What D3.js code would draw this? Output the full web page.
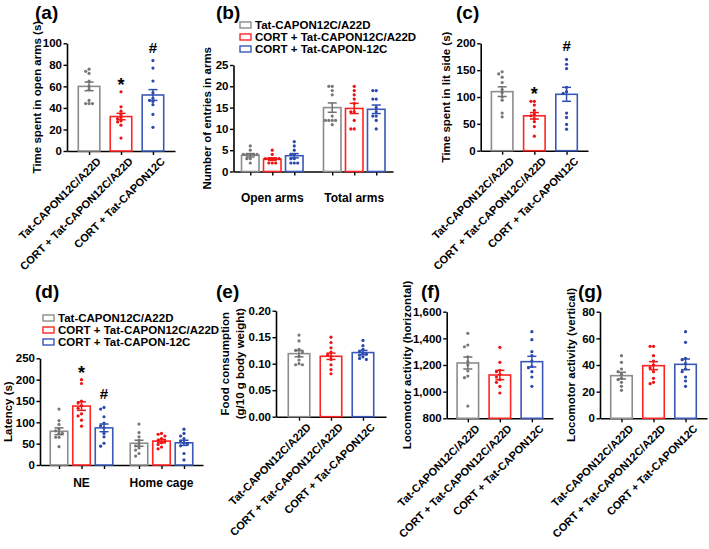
<!DOCTYPE html>
<html><head><meta charset="utf-8">
<script src="https://cdn.jsdelivr.net/npm/d3@7"></script>
<style>
body{margin:0;background:#fff}
svg{display:block}
text{font-family:"Liberation Sans",Arial,sans-serif;font-weight:bold;fill:#000}
</style>
</head><body><svg id="c" width="709" height="549"></svg>
<script>
// ---------- data ----------
const groups = ["Tat-CAPON12C/A22D", "CORT + Tat-CAPON12C/A22D", "CORT + Tat-CAPON12C"];
const legendNames = ["Tat-CAPON12C/A22D", "CORT + Tat-CAPON12C/A22D", "CORT + Tat-CAPON-12C"];

// (a) Time spent in open arms (s)
const aMeans = [60, 32, 52];
const aSems = [4, 3, 5];
const aPoints = [[76,74,72,65,60,57,47,44,44,44],[55,41,37,34,31,30,28,27,24,12],[84,77,65,54,49,47,46,43,34,22]];
const aTicks = [0, 20, 40, 60, 80, 100];
const aMarks = ["", "*", "#"];

// (b) Number of entries in arms
const bCats = ["Open arms", "Total arms"];
const bMeans = [[3.8, 2.9, 3.7], [15.0, 14.8, 14.6]];
const bSems = [[0.4, 0.3, 0.5], [1.1, 1.2, 1.0]];
const bPoints = [
  [[6,5,4,4,4,4,4,3,3,2],[5,4,3,3,3,3,3,2,2,2],[7,6,5,4,4,3,3,2,2,2]],
  [[20,20,19,18,13,12,12,12,12,11],[20,19,18,17,16,14,14,12,10,10],[19,19,17,17,15,14,13,13,12,10]]
];
const bTicks = [0, 5, 10, 15, 20, 25];

// (c) Time spent in lit side (s)
const cMeans = [110, 65, 105];
const cSems = [9, 6, 13];
const cPoints = [[147,143,137,127,114,108,100,94,70,63],[92,92,85,75,68,65,60,54,45,27],[170,161,153,118,110,107,70,62,49,40]];
const cTicks = [0, 50, 100, 150, 200];
const cMarks = ["", "*", "#"];

// (d) Latency (s)
const dCats = ["NE", "Home cage"];
const dMeans = [[79, 138, 87], [51, 56, 52]];
const dSems = [[8, 10, 9], [7, 4, 6]];
const dPoints = [
  [[131,104,95,85,80,74,74,65,65,43],[200,191,150,145,139,133,120,115,105,91],[135,131,113,98,92,87,74,66,51,44]],
  [[96,76,66,58,50,45,40,35,27,21],[74,72,68,62,58,55,52,48,42,38],[84,74,68,62,56,52,50,45,27,12]]
];
const dTicks = [0, 50, 100, 150, 200, 250];
const dMarks = [["", "*", "#"], ["", "", ""]];

// (e) Food consumption (g/10 g body weight)
const eMeans = [0.119, 0.114, 0.121];
const eSems = [0.006, 0.006, 0.004];
const ePoints = [[0.154,0.143,0.127,0.125,0.122,0.114,0.107,0.100,0.098,0.098],[0.150,0.140,0.130,0.122,0.117,0.114,0.108,0.098,0.089,0.081],[0.144,0.134,0.127,0.123,0.120,0.118,0.116,0.113,0.110,0.108]];
const eTicks = [0, 0.05, 0.10, 0.15, 0.20];

// (f) Locomotor activity (horizontal)
const fMeans = [1215, 1125, 1225];
const fSems = [45, 35, 40];
const fPoints = [[1438,1350,1337,1262,1225,1200,1155,1117,1105,892],[1333,1220,1160,1150,1130,1110,1090,1070,1040,990],[1450,1390,1300,1270,1230,1190,1180,1150,1110,1040]];
const fTicks = [800, 1000, 1200, 1400, 1600];

// (g) Locomotor activity (vertical)
const gMeans = [32, 39.5, 40.5];
const gSems = [2.5, 3, 4];
const gPoints = [[47,42,37,35,33,30,29,27,24,21],[54,54,47,43,40,38,35,30,27,26],[65,57,45,44,41,37,35,31,28,24]];
const gTicks = [0, 20, 40, 60, 80];

// ---------- style ----------
const barColors = ["#8c8c8c", "#ff2424", "#3a58b8"];
const errColors = ["#707070", "#f01818", "#2f4fb0"];
const dotColors = ["#777777", "#ee1111", "#2a48aa"];

const svg = d3.select("#c");

function swarm(vals, yScale, cx, d) {
  const placed = [];
  const sorted = vals.slice().sort((a, b) => b - a);
  sorted.forEach(v => {
    const py = yScale(v);
    const cands = [0, -d, d, -2 * d, 2 * d, -3 * d, 3 * d];
    for (const off of cands) {
      const px = cx + off;
      if (!placed.some(p => Math.hypot(p.x - px, p.y - py) < d * 0.9)) { placed.push({x: px, y: py}); break; }
    }
  });
  return placed;
}

function styleAxis(ax) {
  ax.select(".domain").attr("stroke", "#000").attr("stroke-width", 1.6);
  ax.selectAll(".tick line").attr("stroke", "#000").attr("stroke-width", 1.4);
  ax.selectAll("text").attr("fill", "#000");
}

function panel(o) {
  const g = svg.append("g");
  const y = d3.scaleLinear().domain(o.domain).range([o.yBase, o.yTop]);
  const bars = [];
  if (o.cats) {
    const xo = d3.scalePoint().domain(o.cats).range([o.x0, o.x1]).padding(o.pad);
    o.cats.forEach((c, ci) => {
      o.means[ci].forEach((m, si) => {
        bars.push({cx: xo(c) + (si - 1) * o.inner, m, e: o.sems[ci][si], pts: o.points[ci][si], s: si, mark: o.marks ? o.marks[ci][si] : ""});
      });
      g.append("text").attr("x", xo(c)).attr("y", o.catY).attr("text-anchor", "middle")
        .style("font-size", "12px").text(c);
    });
    const xi = d3.scaleIdentity().domain([o.x0, o.x1]);
    const ax = g.append("g").attr("transform", `translate(0,${o.yBase})`)
      .call(d3.axisBottom(xi).tickValues(bars.map(b => b.cx)).tickFormat("").tickSize(4).tickSizeOuter(0));
    styleAxis(ax);
  } else {
    const xs = d3.scalePoint().domain(groups).range([o.x0, o.x1]).padding(o.pad);
    groups.forEach((gn, si) => bars.push({cx: xs(gn), m: o.means[si], e: o.sems[si], pts: o.points[si], s: si, mark: o.marks ? o.marks[si] : ""}));
    const ax = g.append("g").attr("transform", `translate(0,${o.yBase})`)
      .call(d3.axisBottom(xs).tickSize(4).tickSizeOuter(0));
    styleAxis(ax);
    ax.selectAll("text").attr("transform", "translate(5,4) rotate(-45)").attr("text-anchor", "end")
      .attr("dx", 0).attr("dy", "0.55em").attr("y", 4).attr("x", 0).style("font-size", "11px");
  }
  const yAx = g.append("g").attr("transform", `translate(${o.x0},0)`)
    .call(d3.axisLeft(y).tickValues(o.ticks).tickFormat(o.fmt).tickSize(3.5).tickSizeOuter(0));
  styleAxis(yAx);
  yAx.selectAll("text").style("font-size", "11.5px").attr("x", -5);

  bars.forEach(b => {
    const col = barColors[b.s];
    g.append("rect").attr("x", b.cx - o.barW / 2).attr("y", y(b.m))
      .attr("width", o.barW).attr("height", o.yBase - y(b.m))
      .attr("fill", "#fff").attr("stroke", col).attr("stroke-width", 1.6);
    const pts = swarm(b.pts, y, b.cx, 3.4);
    g.selectAll(null).data(pts).enter().append("circle")
      .attr("cx", p => p.x).attr("cy", p => p.y).attr("r", 1.6)
      .attr("fill", dotColors[b.s]);
    const top = y(b.m + b.e), bot = y(b.m - b.e), cw = 4.5;
    const eg = g.append("g").attr("stroke", errColors[b.s]).attr("stroke-width", 1.5);
    eg.append("line").attr("x1", b.cx).attr("x2", b.cx).attr("y1", top).attr("y2", bot);
    eg.append("line").attr("x1", b.cx - cw).attr("x2", b.cx + cw).attr("y1", top).attr("y2", top);
    eg.append("line").attr("x1", b.cx - cw).attr("x2", b.cx + cw).attr("y1", bot).attr("y2", bot);
    if (b.mark) {
      const maxY = y(d3.max(b.pts));
      g.append("text").attr("x", b.cx).attr("y", b.mark === "*" ? maxY - 1 : maxY - 8)
        .attr("text-anchor", "middle").style("font-size", b.mark === "*" ? "18px" : "15px").text(b.mark);
    }
  });

  const midY = (o.yBase + o.yTop) / 2;
  o.title.forEach((t, i) => {
    g.append("text").attr("transform", `translate(${o.titleX + i * 15},${midY}) rotate(-90)`)
      .attr("text-anchor", "middle").attr("dy", "0.35em").style("font-size", "11.5px").text(t);
  });
  svg.append("text").attr("x", o.lx).attr("y", o.ly).style("font-size", "19px").text(o.label);

  if (o.legend) {
    legendNames.forEach((n, i) => {
      const ly = o.legend.y + i * 12;
      g.append("rect").attr("x", o.legend.x).attr("y", ly - 3).attr("width", 11).attr("height", 6)
        .attr("fill", "#fff").attr("stroke", barColors[i]).attr("stroke-width", 1.4);
      g.append("text").attr("x", o.legend.x + 15).attr("y", ly).attr("dy", "0.36em")
        .style("font-size", "11.5px").text(n);
    });
  }
}

panel({x0: 67, x1: 175, yBase: 151, yTop: 43.3, domain: [0, 100], ticks: aTicks, fmt: d3.format("d"), pad: 0.69,
  means: aMeans, sems: aSems, points: aPoints, marks: aMarks, barW: 21.5,
  title: ["Time spent in open arms (s)"], titleX: 37, label: "(a)", lx: 35, ly: 19});

panel({x0: 233.5, x1: 393, yBase: 171.5, yTop: 65, domain: [0, 25], ticks: bTicks, fmt: d3.format("d"), pad: 0.473, inner: 22,
  cats: bCats, catY: 202, means: bMeans, sems: bSems, points: bPoints, barW: 17.5,
  title: ["Number of entries in arms"], titleX: 207, label: "(b)", lx: 216, ly: 19, legend: {x: 240, y: 25}});

panel({x0: 480.7, x1: 588, yBase: 150.7, yTop: 43.3, domain: [0, 200], ticks: cTicks, fmt: d3.format("d"), pad: 0.666,
  means: cMeans, sems: cSems, points: cPoints, marks: cMarks, barW: 21.5,
  title: ["Time spent in lit side (s)"], titleX: 446, label: "(c)", lx: 456, ly: 19});

panel({x0: 40, x1: 203, yBase: 465, yTop: 358.3, domain: [0, 250], ticks: dTicks, fmt: d3.format("d"), pad: 0.519, inner: 22.5,
  cats: dCats, catY: 487, means: dMeans, sems: dSems, points: dPoints, marks: dMarks, barW: 17.5,
  title: ["Latency (s)"], titleX: 8, label: "(d)", lx: 35, ly: 298, legend: {x: 43, y: 318}});

panel({x0: 276, x1: 386, yBase: 416.7, yTop: 310.7, domain: [0, 0.2], ticks: eTicks, fmt: d3.format(".2f"), pad: 0.72,
  means: eMeans, sems: eSems, points: ePoints, barW: 21.5,
  title: ["Food consumption", "(g/10 g body weight)"], titleX: 225, label: "(e)", lx: 216, ly: 298});

panel({x0: 446.7, x1: 553, yBase: 418.3, yTop: 311.7, domain: [800, 1600], ticks: fTicks, fmt: d3.format(","), pad: 0.66,
  means: fMeans, sems: fSems, points: fPoints, barW: 21.5,
  title: ["Locomotor activity (horizontal)"], titleX: 407, label: "(f)", lx: 421, ly: 298});

panel({x0: 600, x1: 707, yBase: 418.3, yTop: 311.7, domain: [0, 80], ticks: gTicks, fmt: d3.format("d"), pad: 0.67,
  means: gMeans, sems: gSems, points: gPoints, barW: 21.5,
  title: ["Locomotor activity (vertical)"], titleX: 571, label: "(g)", lx: 578, ly: 298});
</script>
</body></html>
